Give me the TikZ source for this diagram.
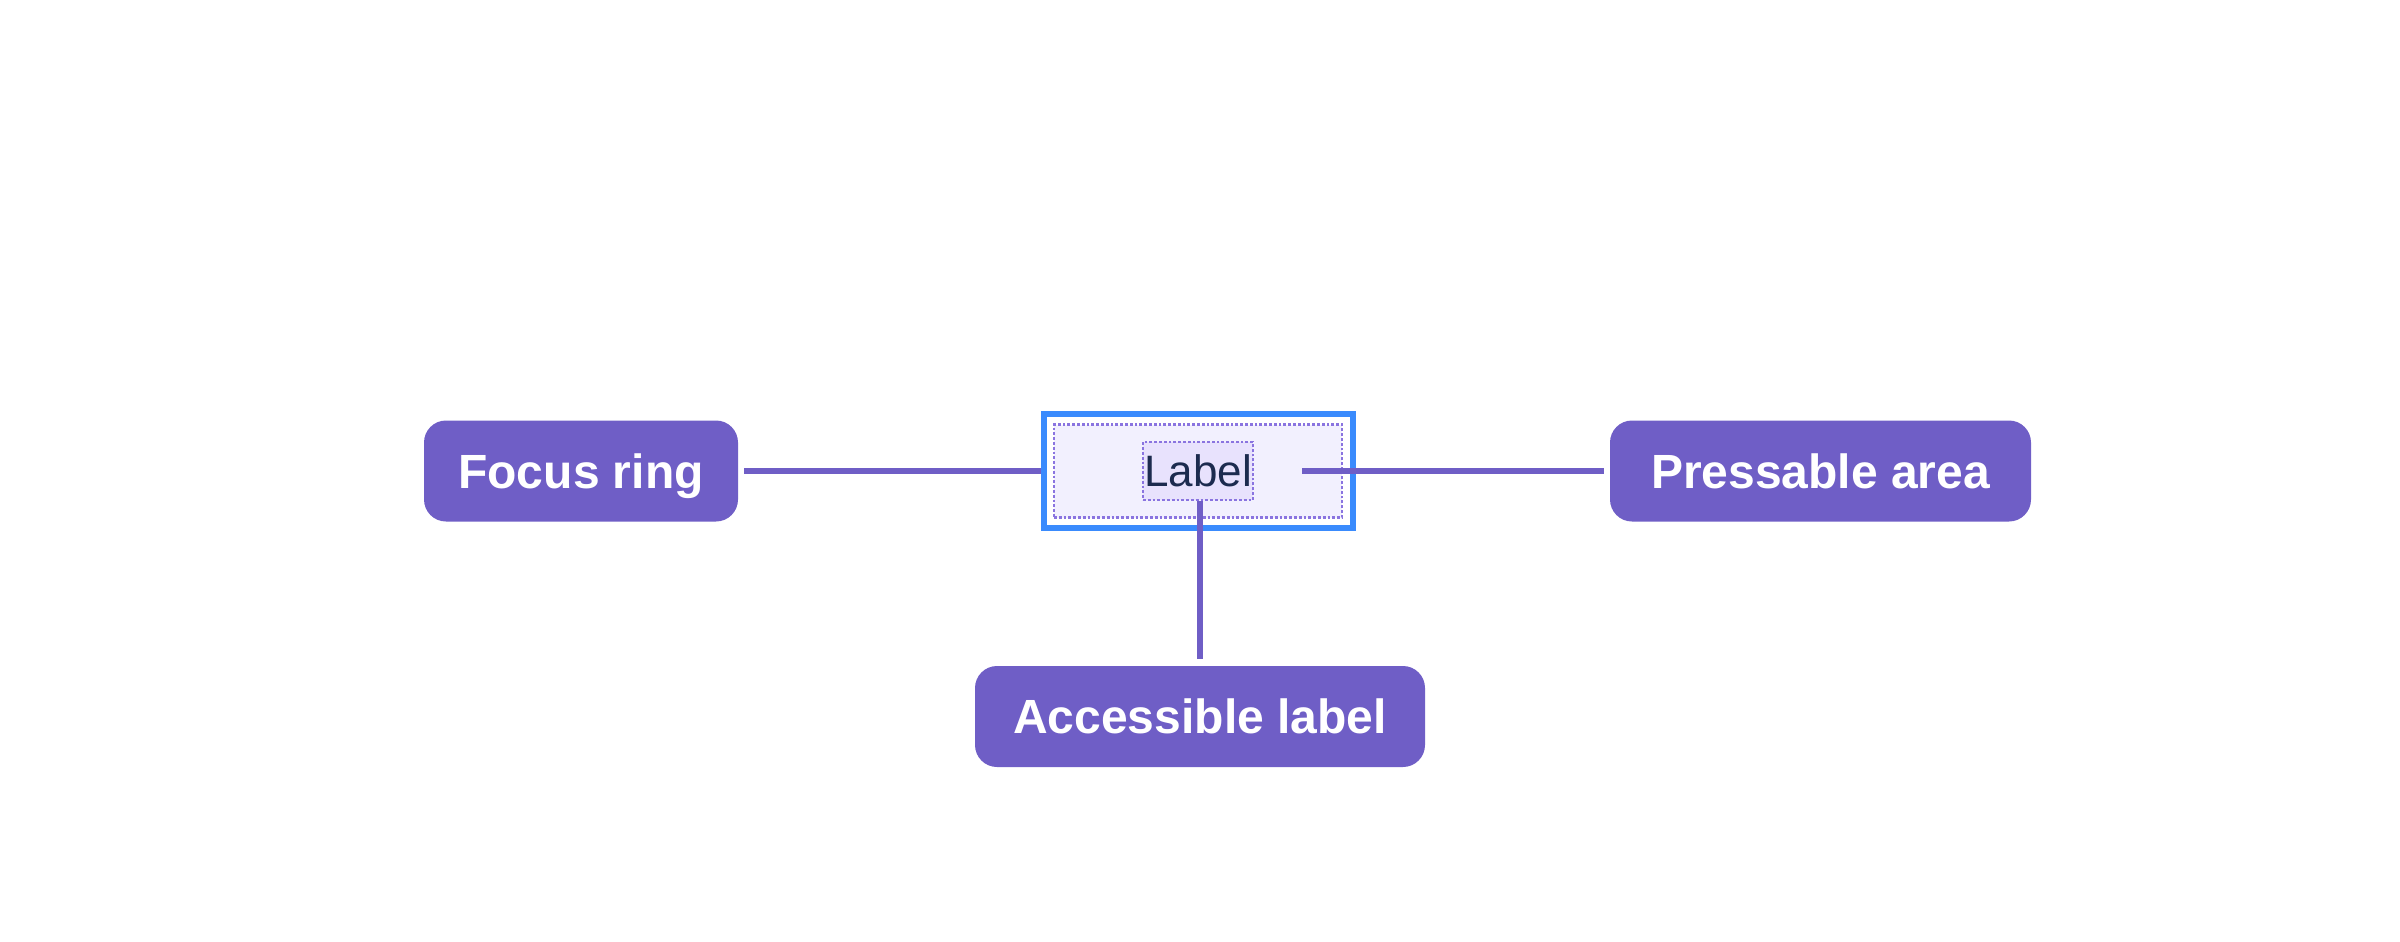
\documentclass[tikz,border=0pt]{standalone}
\usepackage{fontspec}
\setmainfont{Liberation Sans}
\definecolor{calloutPurple}{HTML}{6F5EC6}
\definecolor{ringBlue}{HTML}{3A8BFD}
\definecolor{dotPurple}{HTML}{8A74E0}
\definecolor{areaFill}{HTML}{F2F0FE}
\definecolor{labelFill}{HTML}{E8E2FD}
\definecolor{labelInk}{HTML}{1C2B4F}
\tikzstyle{calloutBox}=[shape = rectangle, rounded corners = 11pt, fill = calloutPurple, text = white, minimum height = 50.5pt, inner sep = 0pt, text height = 17.2pt, text depth = 0pt, font = \fontsize{24}{28}\selectfont\bfseries]
\tikzstyle{leaderLine}=[draw = calloutPurple, line width = 3pt]

\begin{document}
\begin{tikzpicture}[x = 0.5pt, y = -0.5pt]
\tikzstyle{focusRing}=[shape = rectangle, draw = ringBlue, fill = white, line width = 3pt, inner sep = 0pt]
\tikzstyle{pressArea}=[shape = rectangle, draw = dotPurple, fill = areaFill, line width = 1.4pt, dash pattern = on 1.4pt off 1pt, inner sep = 0pt]
\tikzstyle{labelArea}=[shape = rectangle, draw = dotPurple, fill = labelFill, line width = 1.4pt, dash pattern = on 1.4pt off 1pt, inner sep = 0pt, text height = 15.8pt, text depth = 0pt, text = labelInk, font = \fontsize{22}{26}\selectfont]
\useasboundingbox (0,0) rectangle (2400,942);
\node[focusRing, minimum width = 154.5pt, minimum height = 57pt] (ring) at (1198.5,471) {};
\node[pressArea, minimum width = 144pt, minimum height = 46.5pt] (area) at (1198,471) {};
\node[labelArea, minimum width = 55pt, minimum height = 29pt] (lbl) at (1198,471) {Label};
\node[calloutBox, minimum width = 157pt] (focus) at (581,471) {Focus ring};
\node[calloutBox, minimum width = 210.5pt] (press) at (1820.5,471) {Pressable area};
\node[calloutBox, minimum width = 225pt] (access) at (1200,716.5) {Accessible label};
\coordinate (pressPoint) at (1302,471);
\draw[leaderLine, shorten <= 3pt] (focus.east) -- (ring.west);
\draw[leaderLine, shorten >= 3pt] (pressPoint) -- (press.west);
\draw[leaderLine, shorten >= 3.5pt] (access.north |- lbl.south) -- (access.north);
\end{tikzpicture}
\end{document}
